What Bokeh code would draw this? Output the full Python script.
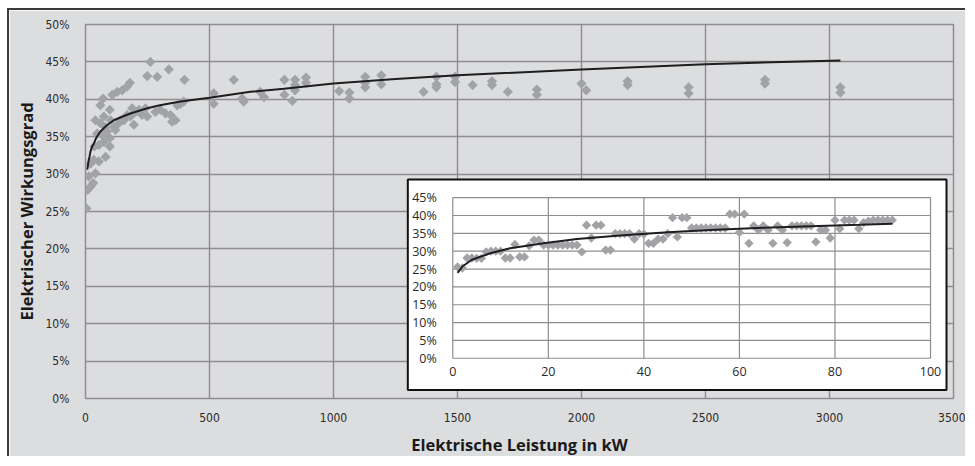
from bokeh.plotting import figure
from bokeh.layouts import column
from bokeh.models import Range1d, FixedTicker, CustomJSTickFormatter
from bokeh.embed import file_html
from bokeh.resources import INLINE
from bokeh.core.properties import value
import math

# ---------------- data ----------------
# main chart: electrical power (kW) vs electrical efficiency (%)
main_kw = [4, 9, 20, 31, 13, 40, 20, 34, 54, 81, 36, 54, 74, 98, 98, 40, 60, 81, 74, 98,
           101, 60, 71, 108, 128, 148, 168, 179, 121, 141, 168, 188, 195, 249, 262, 289,
           336, 399, 242, 249, 282, 302, 323, 343, 349, 363, 370, 383, 396, 228, 47, 67,
           87, 114, 134, 155, 181, 202, 215, 517, 517, 598, 632, 638,
           704, 720, 802, 802, 845, 845, 845, 834, 889, 889, 1023, 1064, 1064, 1128, 1128,
           1128, 1193, 1193, 1363, 1415, 1415, 1415, 1490, 1490, 1561, 1639, 1639, 1703,
           1820, 1820, 2000, 2019, 2186, 2186, 2432, 2432, 2740, 2740, 3044, 3044]
main_eff = [25.4, 27.9, 28.3, 28.8, 29.7, 30.1, 31.4, 31.9, 31.7, 32.3, 33.7, 33.9, 34.3,
            33.7, 34.8, 37.2, 36.8, 36.3, 37.7, 38.6, 37.2, 39.2, 40.1, 40.6, 41.0, 41.2,
            41.7, 42.2, 35.9, 37.2, 37.9, 38.8, 36.6, 43.1, 45.0, 43.0, 44.0, 42.6, 38.8,
            37.7, 38.3, 38.6, 38.1, 37.9, 37.0, 37.2, 39.2, 39.4, 39.7, 37.9, 35.4, 35.2,
            35.7, 36.3, 36.8, 37.2, 37.7, 38.3, 38.6, 40.8, 39.4, 42.6, 40.1, 39.7,
            41.0, 40.3, 42.6, 40.6, 42.6, 41.9, 41.2, 39.8, 42.9, 42.2, 41.1, 40.9, 40.1,
            43.0, 42.2, 41.6, 43.2, 42.0, 41.0, 43.0, 42.0, 41.6, 43.0, 42.3, 41.9, 42.4,
            41.9, 41.0, 41.3, 40.6, 42.1, 41.2, 42.4, 41.9, 41.6, 40.8, 42.6, 42.1, 41.6, 40.9]
# trend line of the main chart
trend_kw = [7, 9, 13, 16, 20, 27, 34, 44, 60, 85, 114, 150, 181, 249, 300, 383, 500, 665,
            800, 1000, 1250, 1500, 2000, 2500, 3044]
trend_eff = [30.6, 31.0, 31.9, 32.3, 33.0, 33.7, 34.1, 34.9, 35.7, 36.5, 37.2, 37.7, 38.1,
             38.8, 39.2, 39.7, 40.2, 41.0, 41.4, 42.1, 42.7, 43.2, 44.0, 44.7, 45.2]

# inset chart: 0-100 kW
inset_kw = list(range(1, 93))
inset_eff = [25.6, 25.3, 28.1, 28.1, 28.0, 28.0, 29.8, 30.0, 30.0, 30.0,
             28.1, 28.1, 31.9, 28.4, 28.4, 31.5, 33.1, 33.1, 31.7, 31.7,
             31.7, 31.7, 31.7, 31.7, 31.7, 31.7, 29.8, 37.3, 33.7, 37.3,
             37.3, 30.3, 30.3, 34.9, 34.9, 34.9, 34.9, 33.4, 34.9, 34.8,
             32.2, 32.2, 33.4, 33.4, 34.9, 39.4, 34.0, 39.4, 39.4, 36.5,
             36.5, 36.5, 36.5, 36.5, 36.5, 36.5, 36.5, 40.4, 40.4, 35.2,
             40.4, 32.2, 37.1, 35.9, 37.1, 35.9, 32.2, 37.1, 35.9, 32.4,
             37.1, 37.1, 37.1, 37.1, 37.1, 32.6, 35.9, 35.9, 33.7, 38.7,
             36.3, 38.7, 38.7, 38.7, 36.3, 38.0, 38.4, 38.7, 38.7, 38.7,
             38.7, 38.7]
inset_trend_kw = [1, 2, 4, 8, 12, 19, 26, 35, 45, 55, 65, 75, 85, 92]
inset_trend_eff = [23.9, 25.7, 27.6, 29.5, 30.8, 32.2, 33.4, 34.4, 35.3, 36.0, 36.6, 37.0, 37.4, 37.7]

main_xticks = [0, 500, 1000, 1500, 2000, 2500, 3000, 3500]
main_yticks = [0, 5, 10, 15, 20, 25, 30, 35, 40, 45, 50]
inset_xticks = [0, 20, 40, 60, 80, 100]
inset_xlabels = ["0", "20", "40", "60", "80", "100"]
inset_yticks = [0, 5, 10, 15, 20, 25, 30, 35, 40, 45]
inset_ylabels = ["0%", "5%", "10%", "15%", "20%", "25%", "30%", "35%", "40%", "45%"]

x_title = "Elektrische Leistung in kW"
y_title = "Elektrischer Wirkungsgrad"

# ---------------- styling / layout constants ----------------
BG = "#dcdddf"
GRID = "#8e8e8e"
PT = "#a2a3a6"
LINE = "#1e1e1e"
EDGE = "#3a3a3a"

PAD_L, PAD_T, EDGE_W = 7, 8, 2
W, H = 958, 448
ORG_X, ORG_Y = PAD_L + EDGE_W, PAD_T + EDGE_W       # canvas origin in page picture
REF_FL, REF_FR, REF_FT, REF_FB = 84.5, 953.0, 24.0, 400.5   # frame edges on reference
B_L = int(round(REF_FL - ORG_X))
B_T = int(round(REF_FT - ORG_Y))
B_R = int(round(W - (REF_FR - ORG_X)))
B_B = int(round(H - (REF_FB - ORG_Y)))
frame_w = W - B_L - B_R
frame_h = H - B_T - B_B
kx = frame_w / (REF_FR - REF_FL)
ky = frame_h / (REF_FB - REF_FT)

def fx(px):
    return (px - REF_FL) * kx

def fy(py):
    return (py - REF_FT) * ky

# inset geometry measured on the reference (px), converted to frame pixels
IN_L, IN_R, IN_T, IN_B = fx(452), fx(930), fy(198.3), fy(360)
BOX_L, BOX_R, BOX_T, BOX_B = fx(407), fx(946), fy(180), fy(392)

IX0, IX1 = inset_xticks[0], inset_xticks[-1]
IY0, IY1 = inset_yticks[0], inset_yticks[-1]
sx = (IN_R - IN_L) / (IX1 - IX0)
sy = (IN_B - IN_T) / (IY1 - IY0)
ix_range = Range1d(IX0 - IN_L / sx, IX1 + (frame_w - IN_R) / sx)
iy_range = Range1d(IY0 - (frame_h - IN_B) / sy, IY1 + IN_T / sy)

def ix(px):
    return IX0 + (px - IN_L) / sx

def iy(py):
    return IY0 + (IN_B - py) / sy

p = figure(width=W, height=H, output_backend="svg", toolbar_location=None,
           x_range=Range1d(0, 3500), y_range=Range1d(0, 50),
           min_border_left=B_L, min_border_right=B_R,
           min_border_top=B_T, min_border_bottom=B_B,
           background_fill_color=BG, border_fill_color=BG)
p.styles = {"border-top": f"{EDGE_W}px solid {EDGE}",
            "border-left": f"{EDGE_W}px solid {EDGE}"}
p.extra_x_ranges = {"ix": ix_range}
p.extra_y_ranges = {"iy": iy_range}

p.outline_line_color = GRID
p.outline_line_width = 1.5
p.xgrid.ticker = FixedTicker(ticks=main_xticks)
p.ygrid.ticker = FixedTicker(ticks=main_yticks)
p.grid.grid_line_color = GRID
p.grid.grid_line_width = 1.4

p.xaxis.ticker = FixedTicker(ticks=main_xticks)
p.yaxis.ticker = FixedTicker(ticks=main_yticks)
p.yaxis.formatter = CustomJSTickFormatter(code="return tick + '%';")
for ax in (p.xaxis[0], p.yaxis[0]):
    ax.axis_line_color = None
    ax.major_tick_line_color = None
    ax.minor_tick_line_color = None
    ax.major_tick_out = 0
    ax.major_tick_in = 0
    ax.minor_tick_out = 0
    ax.major_label_text_font = "DejaVu Sans Condensed"
    ax.major_label_text_font_size = "12px"
    ax.major_label_text_color = "#2a2a2a"
    ax.axis_label_text_font = "Open Sans"
    ax.axis_label_text_font_style = "bold"
    ax.axis_label_text_font_size = "16.5px"
    ax.axis_label_text_color = "#1a1a1a"
p.xaxis.axis_label = x_title
p.yaxis.axis_label = y_title
p.xaxis.major_label_standoff = 14
p.xaxis.axis_label_standoff = 8
p.yaxis.major_label_standoff = 16
p.yaxis.axis_label_standoff = 5

# main data
p.scatter(main_kw, main_eff, marker="square", angle=math.pi / 4, size=7.2,
          fill_color=PT, line_color=None)
p.line(trend_kw, trend_eff, line_color=LINE, line_width=2)

# ---------------- inset ----------------
p.quad(left=ix(BOX_L), right=ix(BOX_R), top=iy(BOX_T), bottom=iy(BOX_B),
       fill_color="white", line_color="#111111", line_width=2,
       x_range_name="ix", y_range_name="iy")
gx = inset_xticks[1:-1]
p.segment(x0=gx, y0=[IY0] * len(gx), x1=gx, y1=[IY1] * len(gx),
          line_color=GRID, line_width=1.2, x_range_name="ix", y_range_name="iy")
gy = inset_yticks[1:-1]
p.segment(x0=[IX0] * len(gy), y0=gy, x1=[IX1] * len(gy), y1=gy,
          line_color=GRID, line_width=1.2, x_range_name="ix", y_range_name="iy")
p.quad(left=IX0, right=IX1, bottom=IY0, top=IY1, fill_color=None,
       line_color=GRID, line_width=1.2, x_range_name="ix", y_range_name="iy")
p.scatter(inset_kw, inset_eff, marker="square", angle=math.pi / 4, size=6.6,
          fill_color=PT, line_color=None, x_range_name="ix", y_range_name="iy")
p.line(inset_trend_kw, inset_trend_eff, line_color=LINE, line_width=2,
       x_range_name="ix", y_range_name="iy")

# inset tick labels
p.text(x=[IX0] * len(inset_yticks), y=inset_yticks, text=inset_ylabels,
       x_offset=-16, text_align="right", text_baseline="middle",
       text_font=value("Open Sans"), text_font_size="12.5px", text_color="#2a2a2a",
       x_range_name="ix", y_range_name="iy")
p.text(x=inset_xticks, y=[IY0] * len(inset_xticks), text=inset_xlabels,
       y_offset=13, text_align="center", text_baseline="middle",
       text_font=value("Open Sans"), text_font_size="12.5px", text_color="#2a2a2a",
       x_range_name="ix", y_range_name="iy")

page = column(p, styles={"padding": f"{PAD_T}px 0px 0px {PAD_L}px",
                         "background-color": "white"})

open("out.html", "w").write(file_html(page, INLINE))
